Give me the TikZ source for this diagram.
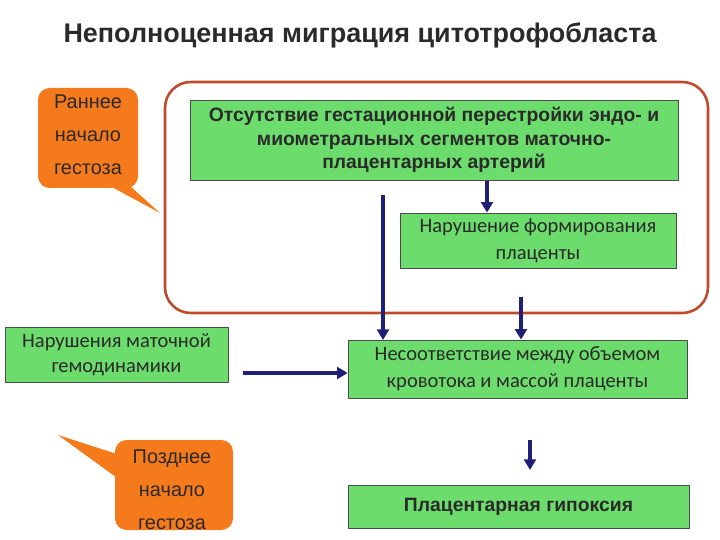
\documentclass[tikz,border=0pt]{standalone}
\usepackage{fontspec}
\setmainfont{Liberation Sans}
\newfontfamily\carlitofont{Carlito}
\usetikzlibrary{arrows.meta}
\definecolor{gr}{HTML}{6CDD6C}
\definecolor{org}{HTML}{F57A1C}
\definecolor{nav}{HTML}{1F1F78}
\definecolor{frm}{HTML}{C04A2A}
\definecolor{tx}{HTML}{2A2A2A}
\begin{document}
\begin{tikzpicture}[x=0.03cm,y=-0.03cm,
 gbox/.style={draw=black!70,line width=0.6pt,fill=gr,inner sep=0pt,text=tx,align=center},
 arr/.style={draw=nav,line width=2.8pt,-{Triangle[length=9pt,width=10pt]}},
 call/.style={fill=org,draw=none}]
\useasboundingbox (0,0) rectangle (720,540);
\node[font=\bfseries\fontsize{23}{27}\selectfont,text=tx] (title) at (360,35) {Неполноценная миграция цитотрофобласта};
% callout 1
\fill[org,rounded corners=10pt] (38,88) rectangle (138,188);
\fill[org] (110,186) -- (160,213) -- (130,186) -- cycle;
\node[font=\fontsize{17}{28}\selectfont,text=tx,align=center] (c1) at (88,135) {Раннее\\начало\\гестоза};
% frame
\draw[frm,line width=2.2pt,rounded corners=22pt] (165,82) rectangle (708,313);
\node[gbox,minimum width=488*0.03cm,minimum height=80*0.03cm,font=\bfseries\fontsize{16.5}{20}\selectfont] (b1) at (434,140) {Отсутствие гестационной перестройки эндо- и\\миометральных сегментов маточно-\\плацентарных артерий};
\node[gbox,minimum width=276*0.03cm,minimum height=55*0.03cm,font=\carlitofont\fontsize{17.5}{23}\selectfont] (b2) at (538,240.5) {Нарушение формирования\\плаценты};
\node[gbox,minimum width=223*0.03cm,minimum height=55*0.03cm,font=\carlitofont\fontsize{17.5}{21}\selectfont] (b3) at (116.5,354.5) {Нарушения маточной\\гемодинамики};
\node[gbox,minimum width=339*0.03cm,minimum height=58*0.03cm,font=\carlitofont\fontsize{17.5}{23}\selectfont] (b4) at (517.5,369) {Несоответствие между объемом\\кровотока и массой плаценты};
\node[gbox,minimum width=341*0.03cm,minimum height=43*0.03cm,font=\bfseries\fontsize{16.5}{20}\selectfont] (b5) at (518.5,506.5) {Плацентарная гипоксия};
% callout 2
\fill[org,rounded corners=10pt] (115,440) rectangle (233,530);
\fill[org] (120,455) -- (58,435) -- (120,480) -- cycle;
\node[font=\fontsize{17}{28}\selectfont,text=tx,align=center] (c2) at (172,490) {Позднее\\начало\\гестоза};
% arrows
\coordinate (a1) at (383,195);
\coordinate (a1e) at (383,340);
\draw[arr] (a1) -- (a1e);
\draw[arr] (487,181) -- (b2.north -| 487,0);
\coordinate (a3) at (521,297);
\draw[arr] (a3) -- (b4.north -| a3);
\coordinate (a4) at (530,440);
\draw[arr] (a4) -- (530,470);
\coordinate (a5) at (243,373);
\draw[arr] (a5) -- (b4.west |- a5);
\end{tikzpicture}
\end{document}
